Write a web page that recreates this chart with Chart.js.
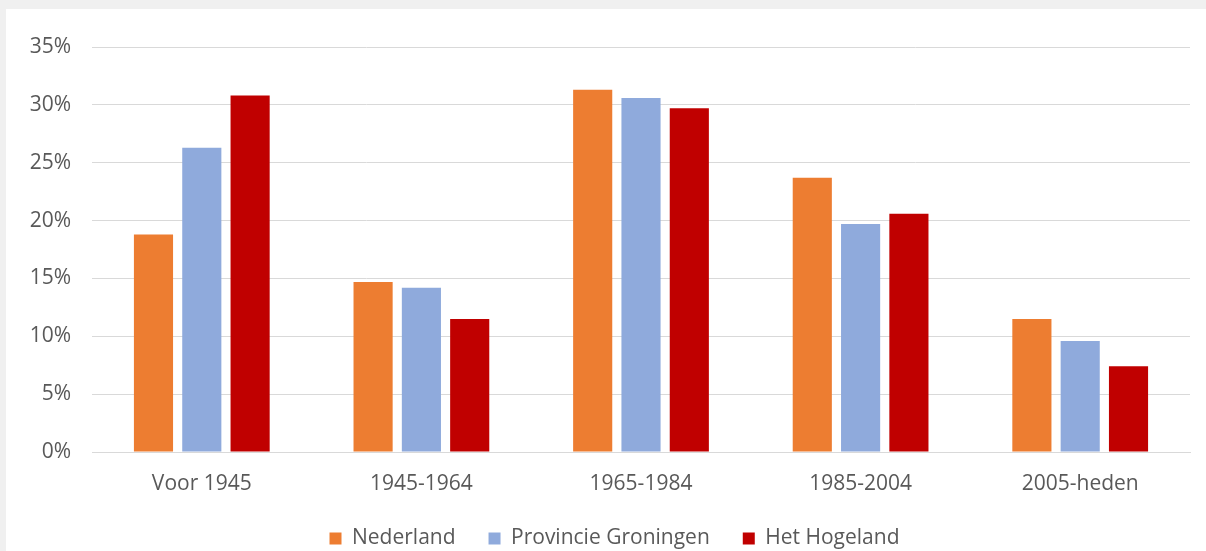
<!DOCTYPE html>
<html>
<head>
<meta charset="utf-8">
<script src="https://cdn.jsdelivr.net/npm/chart.js@4"></script>
<style>
  html, body { margin: 0; padding: 0; background: #f0f0f0; }
  #card { position: absolute; left: 6px; top: 9px; width: 1200px; height: 542px; background: #fff; }
</style>
</head>
<body>
<div id="card"><canvas id="chart"></canvas></div>
<script>
// Periods of construction
const periods = ["Voor 1945", "1945-1964", "1965-1984", "1985-2004", "2005-heden"];

// Share of dwellings per period (%)
const nederland = [18.8, 14.7, 31.3, 23.7, 11.5];
const provincieGroningen = [26.3, 14.2, 30.6, 19.7, 9.6];
const hetHogeland = [30.8, 11.5, 29.7, 20.6, 7.4];

const yTicks = [0, 5, 10, 15, 20, 25, 30, 35];

const textColor = "#595959";
const fontFamily = "'Open Sans', 'DejaVu Sans', sans-serif";

// legend sits a bit right of the canvas centre in the original
const shiftLegend = {
  id: "shiftLegend",
  afterLayout(chart) {
    if (chart.legend) chart.legend.left += 33;
  },
};

const ctx = document.getElementById("chart").getContext("2d");

new Chart(ctx, {
  type: "bar",
  data: {
    labels: periods,
    datasets: [
      { label: "Nederland", data: nederland, backgroundColor: "#ED7D31" },
      { label: "Provincie Groningen", data: provincieGroningen, backgroundColor: "#8FAADC" },
      { label: "Het Hogeland", data: hetHogeland, backgroundColor: "#C00000" },
    ],
  },
  plugins: [shiftLegend],
  options: {
    responsive: true,
    maintainAspectRatio: false,
    animation: false,
    categoryPercentage: 0.66,
    barPercentage: 0.81,
    layout: { padding: { top: 38, right: 16, left: 0, bottom: -8 } },
    plugins: {
      tooltip: { enabled: false },
      legend: {
        position: "bottom",
        labels: {
          color: textColor,
          font: { family: fontFamily, size: 21 },
          boxWidth: 12,
          boxHeight: 12,
          padding: 33,
        },
      },
    },
    scales: {
      x: {
        grid: { display: false },
        border: { color: "#d9d9d9", width: 1 },
        ticks: { color: textColor, font: { family: fontFamily, size: 21 }, padding: 11 },
        afterFit: (scale) => { scale.height = 43; },
      },
      y: {
        min: 0,
        max: 35,
        afterBuildTicks: (scale) => { scale.ticks = yTicks.map((v) => ({ value: v })); },
        grid: { color: "#d9d9d9", lineWidth: 1, drawTicks: false },
        border: { display: false },
        ticks: {
          color: textColor,
          font: { family: fontFamily, size: 21 },
          padding: 21,
          callback: (v) => v + "%",
        },
        afterFit: (scale) => { scale.width = 86; },
      },
    },
  },
});
</script>
</body>
</html>
